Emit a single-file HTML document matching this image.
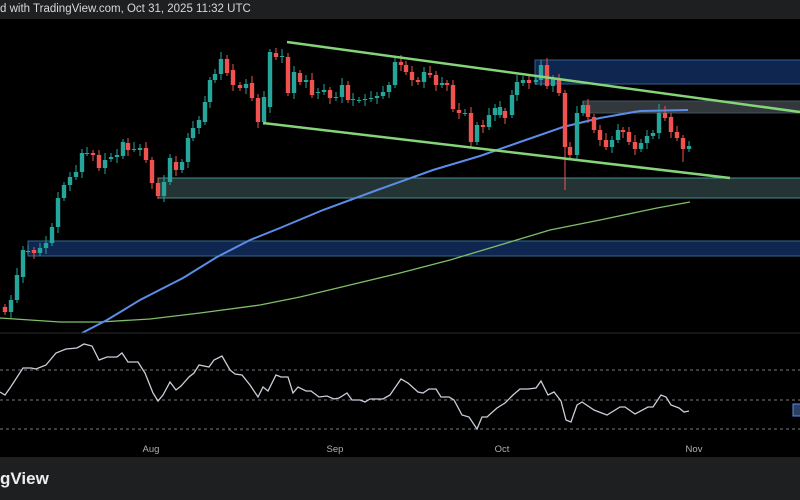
<!DOCTYPE html>
<html><head><meta charset="utf-8"><style>
html,body{margin:0;padding:0;background:#000;width:800px;height:500px;overflow:hidden;font-family:"Liberation Sans",sans-serif}
#top{position:absolute;left:0;top:0;width:800px;height:19px;background:#1e1f21;color:#d8d8d8;font-size:11.5px;line-height:19px;white-space:nowrap}
#bot{position:absolute;left:0;top:457px;width:800px;height:43px;background:#1e1f21;color:#eee;font-size:17px;font-weight:bold;line-height:43px}
svg{position:absolute;left:0;top:0}
</style></head><body>
<svg id="s" width="800" height="500" xmlns="http://www.w3.org/2000/svg">
<rect x="535" y="60" width="270" height="24" fill="#0f2650" stroke="#2f5f8f" stroke-width="1"/>
<rect x="583" y="101" width="220" height="12" fill="#33383d" stroke="#44505a" stroke-width="1"/>
<rect x="158" y="178" width="645" height="20" fill="#243434" stroke="#4a8c90" stroke-width="1"/>
<rect x="28" y="241" width="775" height="15" fill="#0f2650" stroke="#2f6a90" stroke-width="1"/>
<polyline fill="none" stroke="#7fbf6a" stroke-width="1.3" points="0,318 60,322 100,322 150,319 200,313 260,305 300,297 350,285 400,273 450,260 500,245 550,230 600,220 657,208 690,202"/>
<polyline fill="none" stroke="#5b8de8" stroke-width="2" points="82,333 107,320 140,300 183,278 217,257 250,240 280,228 323,210 380,189 433,170 480,156 520,142 563,127 600,118 640,111 688,110"/>
<g id="c"></g>
<line x1="287" y1="42" x2="800" y2="112" stroke="#86d47a" stroke-width="2.5"/>
<line x1="263" y1="123" x2="730" y2="178" stroke="#86d47a" stroke-width="2.5"/>
<line x1="0" y1="333" x2="800" y2="333" stroke="#2a2a2a" stroke-width="1"/>
<g stroke="#7a7a7a" stroke-width="1" stroke-dasharray="3,3">
<line x1="0" y1="370" x2="800" y2="370"/><line x1="0" y1="400" x2="800" y2="400"/><line x1="0" y1="429" x2="800" y2="429"/></g>
<polyline fill="none" stroke="#c9ced8" stroke-width="1.3" points="0,392 5,395 10,388 23,368 31,368 36,369 46,365 56,353 66,349 77,348 84,344 92,346 99,360 107,357 117,357 122,353 128,362 138,362 145,373 153,393 158,401 163,395 170,382 176,390 181,386 189,377 194,373 199,365 209,367 214,360 222,356 230,370 235,374 242,375 250,385 258,397 263,387 268,391 276,375 281,377 288,377 293,393 298,387 306,391 311,391 319,397 327,396 334,399 339,398 347,393 352,400 360,400 365,402 370,399 383,399 390,395 401,379 408,383 418,392 423,393 429,389 436,389 441,397 449,397 454,400 462,415 469,417 477,429 482,417 487,417 497,408 505,403 513,395 520,389 528,389 536,388 541,381 548,395 554,392 561,401 566,420 571,422 577,405 582,402 594,410 607,415 620,407 625,407 635,414 648,407 653,407 661,395 666,397 671,405 679,408 684,412 689,411"/>
<rect x="793" y="404" width="10" height="12" fill="#2a3f66" stroke="#5b8de8"/>
<g fill="#b0b0b0" font-size="9.5" font-family="Liberation Sans,sans-serif" text-anchor="middle">
<text x="151" y="452">Aug</text><text x="335" y="452">Sep</text><text x="502" y="452">Oct</text><text x="694" y="452">Nov</text></g>
</svg>
<div id="top">d with TradingView.com, Oct 31, 2025 11:32 UTC</div>
<div id="bot">gView</div>
<script>
var d=[[5,307,312],[11,312,300],[17,300,275],[23,277,250],[28,251,251],[34,250,253],[40,253,248],[46,248,243],[52,243,227],[58,227,198],[64,198,185],[70,185,177],[76,177,172],[82,172,153],[87,153,153],[93,153,155],[99,155,168],[105,168,160],[111,159,157],[117,157,155],[123,156,142],[128,143,150],[134,149,149],[140,150,148],[146,148,160],[152,160,183],[158,183,196],[164,196,182],[170,182,158],[176,162,170],[182,170,162],[188,162,138],[193,138,128],[199,128,120],[205,122,102],[210,102,80],[215,80,74],[221,74,59],[227,59,73],[233,70,85],[240,85,88],[246,88,84],[252,83,98],[258,98,122],[264,122,97],[270,107,52],[276,53,57],[282,57,56],[288,57,93],[294,93,72],[300,73,82],[306,82,80],[312,80,95],[318,93,92],[324,92,90],[330,90,98],[336,98,97],[342,97,85],[348,85,100],[353,100,99],[359,100,100],[365,100,99],[371,99,98],[377,98,96],[383,96,92],[389,92,85],[395,85,62],[401,62,65],[406,65,72],[412,72,80],[418,80,82],[424,82,72],[430,73,75],[436,75,85],[442,85,83],[447,83,85],[453,85,109],[459,110,113],[465,113,113],[471,113,142],[477,142,125],[483,125,127],[489,127,115],[495,115,108],[500,115,107],[505,111,118],[512,115,95],[517,95,82],[523,83,80],[529,80,83],[536,82,80],[541,80,65],[547,65,86],[553,86,79],[559,80,93],[565,93,147],[570,147,155],[577,155,113],[583,113,105],[588,105,117],[594,117,130],[600,130,140],[606,140,147],[612,147,140],[618,140,130],[623,130,132],[629,132,142],[635,142,149],[641,149,143],[647,143,136],[653,136,133],[659,133,113],[665,113,118],[671,117,132],[677,132,138],[683,138,149],[689,149,146]];
var g=document.getElementById('c'),h='';
d.forEach(function(a,i){var x=a[0],o=a[1],c=a[2],up=c<=o,col=up?'#26a69a':'#ef5350';
var t=Math.min(o,c),b=Math.max(o,c);var hi=t-3-(i*7%5),lo=b+3+(i*3%6);
if(x==565)lo=190;if(x==683)lo=162;if(x==659)hi=104;
h+='<line x1="'+x+'" y1="'+hi+'" x2="'+x+'" y2="'+lo+'" stroke="'+col+'" stroke-width="1"/>';
h+='<rect x="'+(x-2.2)+'" y="'+t+'" width="4.4" height="'+Math.max(1,b-t)+'" fill="'+col+'"/>';});
g.innerHTML=h;
</script>
</body></html>
